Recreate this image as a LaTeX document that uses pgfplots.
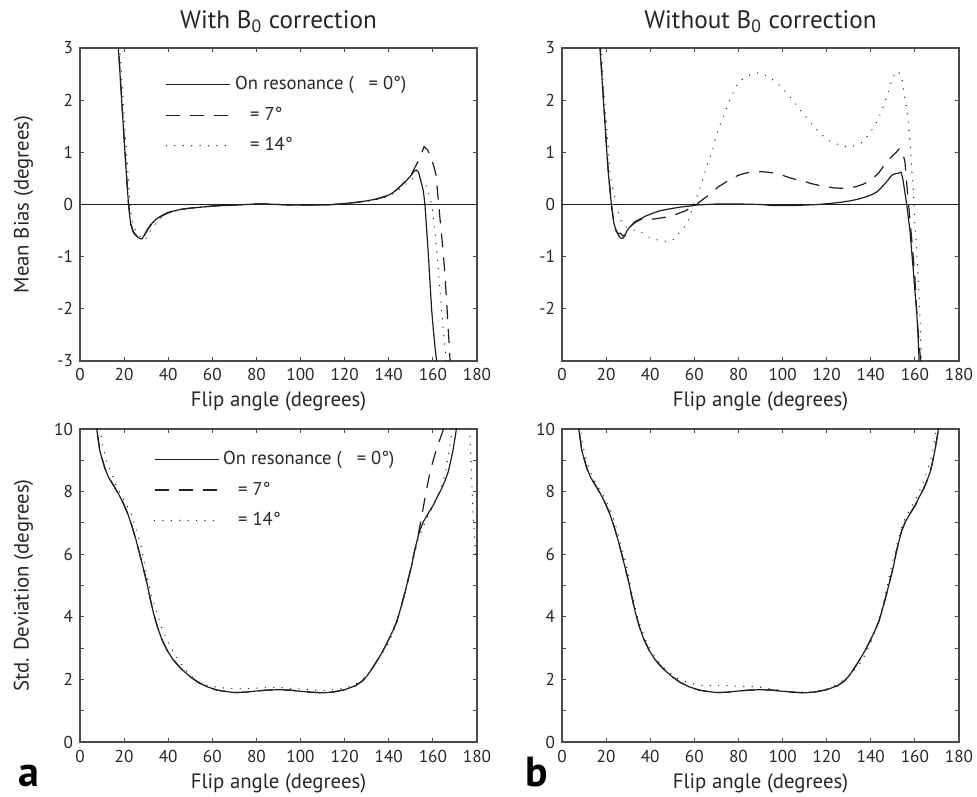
\documentclass[border=0pt]{standalone}
\usepackage{pgfplots}
\pgfplotsset{compat=1.18}
\usepackage{pgfplotstable}
\usepackage{fontspec}
\setmainfont{PT Sans}
\definecolor{ink}{HTML}{1E1E1E}
\definecolor{frame}{HTML}{4A4A4A}

% ---------- top panels: mean bias ----------
\pgfplotstableread{
x y
17.0 3.3
17.4 3.0
18 2.6
19 1.92
20 1.25
21 0.6
22 0.0
22.5 -0.2
23 -0.38
24 -0.52
25 -0.58
26 -0.62
27 -0.65
28 -0.66
29 -0.6
30 -0.52
31 -0.45
32 -0.39
34 -0.3
36 -0.24
38 -0.19
40 -0.15
43 -0.12
46 -0.09
50 -0.07
55 -0.05
60 -0.03
65 -0.02
70 -0.01
75 0.0
80 0.01
85 0.01
90 0.0
95 -0.01
100 -0.01
105 -0.01
110 -0.01
115 0.0
120 0.02
125 0.04
130 0.07
135 0.11
138 0.15
140 0.18
142 0.23
144 0.3
146 0.38
148 0.46
150 0.55
151.5 0.64
152.5 0.66
153.5 0.62
154.2 0.5
155 0.38
155.7 0.25
156.4 0.0
157.2 -0.5
158 -1.0
158.7 -1.5
159.4 -2.0
160.2 -2.4
161 -2.75
161.7 -3.0
162 -3.2
}\TLsolid
\pgfplotstableread{
x y
17.2 3.3
17.5 3.0
18 2.62
19 1.94
20 1.27
21 0.62
22 0.02
22.5 -0.18
23 -0.36
24 -0.5
25 -0.57
26 -0.61
27 -0.64
28 -0.67
29 -0.61
30 -0.53
31 -0.46
32 -0.4
34 -0.31
36 -0.25
38 -0.2
40 -0.16
43 -0.12
46 -0.09
50 -0.07
55 -0.05
60 -0.03
65 -0.02
70 -0.01
75 0.0
80 0.01
85 0.01
90 0.0
95 -0.01
100 -0.01
105 -0.01
110 -0.01
115 0.0
120 0.02
125 0.04
130 0.07
135 0.11
138 0.15
140 0.18
142 0.23
144 0.3
146 0.38
148 0.46
150 0.56
151.5 0.68
153.1 0.81
155 1.0
156 1.11
157.5 1.05
159.1 0.92
160.3 0.75
161.4 0.57
162.3 0.15
163.2 -0.26
164 -0.6
164.7 -0.94
165.3 -1.25
165.8 -1.58
166.3 -1.9
166.7 -2.21
167.3 -2.63
167.8 -3.0
168 -3.2
}\TLdash
\pgfplotstableread{
x y
17.8 3.2
18 3.0
19 2.35
20 1.7
21 1.05
22 0.45
22.6 0.0
23.5 -0.3
24.5 -0.45
26 -0.55
27.5 -0.62
28.5 -0.67
29.5 -0.68
30.5 -0.6
32 -0.5
34 -0.38
36 -0.28
38 -0.22
40 -0.17
43 -0.13
46 -0.1
50 -0.07
55 -0.05
60 -0.03
70 -0.01
80 0.01
90 0.0
100 -0.01
110 -0.01
120 0.02
130 0.06
135 0.1
140 0.16
144 0.26
147 0.36
149 0.44
151.1 0.5
153 0.5
154.9 0.47
157.2 0.34
158.7 0.12
159.8 -0.1
161 -0.55
162 -1.0
163.2 -1.64
164.4 -2.28
166 -2.95
166.2 -3.2
}\TLdot
\pgfplotstableread{
x y
17.0 3.3
17.2 3.0
18 2.5
19 1.85
20 1.2
21 0.6
22.5 -0.05
23.5 -0.35
24.5 -0.5
25.5 -0.58
26.5 -0.64
27.5 -0.65
28.5 -0.6
29.5 -0.5
30.8 -0.43
32 -0.38
33 -0.33
35.4 -0.28
38 -0.22
41 -0.17
44.4 -0.12
48 -0.09
53.5 -0.05
58 -0.03
61 -0.01
70 0.01
80 0.01
90 0.0
95.8 -0.02
100 -0.02
105 -0.02
110.9 -0.01
116 0.0
121.5 0.02
126 0.04
130.6 0.07
134 0.1
138.1 0.15
140.5 0.19
142.7 0.24
144.5 0.31
146.4 0.4
148 0.48
149.5 0.56
151 0.59
152.5 0.6
153.7 0.62
154.5 0.5
155.5 0.22
156.3 0.0
157 -0.25
157.8 -0.51
158.5 -0.88
159.3 -1.28
160 -1.65
160.8 -2.05
161.4 -2.5
161.9 -2.98
162.1 -3.2
}\TRsolid
\pgfplotstableread{
x y
17.2 3.2
17.4 3.0
18 2.55
19 1.9
20 1.25
21 0.62
22.5 -0.02
23.5 -0.35
24.5 -0.5
25.5 -0.56
26.5 -0.55
27.5 -0.6
28.5 -0.58
29.5 -0.5
31 -0.42
33 -0.35
35 -0.3
37 -0.27
39 -0.3
41 -0.28
43 -0.27
46 -0.25
48.2 -0.23
51 -0.2
53.5 -0.16
56 -0.12
58 -0.07
60.3 -0.02
63 0.07
65.6 0.15
68 0.23
70.9 0.34
74 0.42
76.9 0.5
80 0.56
83 0.6
86 0.62
89.8 0.63
93 0.62
96.6 0.6
100 0.56
103.4 0.51
107 0.47
110.2 0.44
113 0.4
116.2 0.37
120 0.34
123 0.32
127 0.31
129.8 0.32
133 0.34
136.6 0.39
139 0.44
141.1 0.51
143.5 0.6
145.7 0.73
147.5 0.82
149.5 0.92
151.5 1.0
153.2 1.08
154.5 0.98
155.5 0.82
156.3 0.4
157 0.05
157.8 -0.3
158.5 -0.64
159.3 -1.03
160 -1.41
160.8 -2.05
161.4 -2.4
162 -2.69
162.6 -3.0
162.8 -3.2
}\TRdash
\pgfplotstableread{
x y
17.5 3.2
17.8 3.0
18.7 2.32
20.3 1.46
21.8 0.57
23 0.3
24 0.12
25.1 -0.09
26.6 -0.3
28.3 -0.4
30.1 -0.46
32.5 -0.49
35.1 -0.51
37 -0.56
39.1 -0.62
41 -0.66
43.4 -0.68
46 -0.7
48.2 -0.71
50.5 -0.67
52.3 -0.58
54 -0.5
55.5 -0.43
57 -0.33
58 -0.22
59.7 0.0
61.4 0.18
63.3 0.41
64.8 0.62
66.3 0.82
68.2 1.03
69.4 1.24
71 1.45
72.8 1.66
74.7 1.86
76.9 2.08
79.2 2.28
81 2.38
83 2.43
85 2.48
87.8 2.53
90 2.51
92.5 2.47
94.5 2.42
96.9 2.35
100.3 2.21
103.8 2.04
107.1 1.86
110.5 1.68
113.7 1.51
117.3 1.35
121.2 1.22
125.7 1.14
128 1.11
130.9 1.11
133 1.13
135.6 1.18
137.5 1.25
139.2 1.35
141.9 1.52
144.2 1.72
146.1 1.93
147.7 2.13
149.2 2.34
150.3 2.45
151.3 2.55
152.7 2.53
154 2.46
154.7 2.24
155.6 2.02
156.3 1.8
157 1.59
157.5 1.36
157.9 1.14
158.2 0.93
158.5 0.72
158.8 0.49
159.3 0.28
159.5 0.05
159.7 -0.17
160 -0.39
160.4 -0.62
160.8 -0.85
161.3 -1.29
161.9 -1.73
162.3 -2.18
162.8 -2.82
163 -3.2
}\TRdot

% ---------- bottom panels: standard deviation ----------
\pgfplotstableread{
x y
7.0 10.6
7.6 10.0
9 9.3
11.3 8.74
13 8.45
15.1 8.21
17.5 7.92
19.6 7.63
21.5 7.32
23.4 6.93
25.3 6.48
27.2 5.97
28.7 5.55
30.2 5.12
31.7 4.62
33.2 4.15
35 3.7
37 3.3
39.5 2.93
42.3 2.62
46 2.33
49.9 2.09
53.5 1.91
57.4 1.77
62 1.66
66.5 1.61
70 1.58
75 1.59
80 1.63
85 1.66
90 1.67
95 1.66
100 1.62
105 1.59
110 1.57
115 1.6
120 1.67
125 1.8
128 1.95
130 2.1
132 2.3
134 2.52
136 2.75
138 3.0
140 3.28
142 3.58
143.6 3.84
145.5 4.3
147.4 4.8
149 5.25
150.4 5.65
151.5 6.05
152.7 6.4
154 6.75
155.7 7.04
158 7.32
160.2 7.57
162 7.83
164 8.1
165.5 8.35
167 8.64
168 8.95
169 9.28
170.5 9.92
171 10.3
}\Bsolid
\pgfplotstableread{
x y
7.0 10.6
7.6 10.0
9 9.3
11.3 8.74
13 8.45
15.1 8.21
17.5 7.92
19.6 7.63
21.5 7.32
23.4 6.93
25.3 6.48
27.2 5.97
28.7 5.55
30.2 5.12
31.7 4.62
33.2 4.15
35 3.7
37 3.3
39.5 2.93
42.3 2.62
46 2.33
49.9 2.09
53.5 1.91
57.4 1.77
62 1.66
66.5 1.61
70 1.58
75 1.59
80 1.63
85 1.66
90 1.67
95 1.66
100 1.62
105 1.59
110 1.57
115 1.6
120 1.67
125 1.8
128 1.95
130 2.1
132 2.3
134 2.52
136 2.75
138 3.0
140 3.28
142 3.58
143.6 3.84
145.5 4.3
147.4 4.8
149 5.25
150.4 5.65
151.5 6.05
152.7 6.4
154.2 6.93
156.4 7.79
158.7 8.64
161.7 9.38
164.7 9.97
165 10.3
}\BLdash
\pgfplotstableread{
x y
8.9 10.3
9.8 9.65
11.8 9.0
14.4 8.58
16.2 8.23
18.6 7.89
21.2 7.57
23.4 7.25
24.9 6.93
26.4 6.56
28 6.19
28.7 5.87
29.9 5.47
31 5.12
32 4.75
33.6 4.41
35.2 4.06
36.7 3.71
38.8 3.37
40.8 3.05
43.8 2.71
46.6 2.41
49.9 2.14
54 1.91
58 1.8
62 1.75
66 1.72
70 1.7
75 1.7
80 1.72
85 1.74
90 1.74
95 1.72
100 1.69
105 1.66
110 1.65
115 1.67
120 1.72
125 1.85
130 2.1
134 2.5
137.5 2.85
140.5 3.25
143.6 3.8
145.5 4.25
147.4 4.75
149 5.2
150.4 5.6
151.5 5.95
152.7 6.3
154 6.6
156 6.95
158 7.25
160.2 7.55
162 7.85
164 8.2
165.5 8.53
167 9.17
168.2 9.7
169 10.3
nan nan
176.6 10.3
176.8 9.7
177.3 8.9
177.8 8.0
178.2 7.3
178.8 6.6
179.5 5.97
}\BLdot
\pgfplotstableread{
x y
8.0 10.4
8.9 9.65
11 9.0
13 8.6
15 8.3
18 7.95
20 7.7
22 7.4
24 7.0
26 6.5
28 6.0
29.5 5.5
31 5.0
32.5 4.5
34 4.05
36 3.6
38 3.25
41 2.85
44 2.55
48 2.25
52 2.05
55 1.95
58.8 1.87
64 1.8
70 1.8
74.6 1.8
80 1.78
86.7 1.77
91.3 1.74
95 1.7
100 1.64
105 1.6
110 1.59
115 1.62
120 1.7
125 1.85
130 2.1
135 2.5
138 2.85
141 3.35
144 4.0
146 4.5
148 5.15
150 5.8
152 6.35
154 6.85
156 7.2
158 7.45
160 7.7
162 8.0
164 8.35
166 8.75
168 9.25
169.1 9.7
170 10.3
}\BRdot

\pgfplotsset{
  panel/.style={
    scale only axis, width=198.5pt, height=156.5pt,
    xmin=0, xmax=180,
    xtick={0,20,...,180},
    xticklabels={0,20,40,60,80,100,120,140,160,180},
    tick align=inside, major tick length=2.2pt, minor tick length=2.2pt,
    axis line style={frame, line width=0.6pt},
    tick style={frame, line width=0.5pt},
    tick label style={font=\fontsize{8.6}{9}\selectfont, text=black!85},
    xticklabel style={anchor=base, yshift=-10pt},
    label style={font=\fontsize{10.4}{12}\selectfont, text=black!85},
    xlabel={Flip angle (degrees)},
    xlabel style={at={(axis description cs:0.5,0)}, anchor=base, yshift=-23pt},
    ylabel style={at={(axis description cs:-0.1,0.5)}, anchor=south},
    title style={at={(axis description cs:0.5,1)}, anchor=base, yshift=4pt,
      font=\fontsize{12.6}{14}\selectfont, text=black!85},
    clip=true,
    unbounded coords=jump,
    legend cell align=left,
    legend style={draw=none, fill=none, font=\fontsize{9.3}{10}\selectfont, text=black!85,
      row sep=2.2pt, inner sep=0pt,
      nodes={text height=7pt, text depth=2pt},
      /tikz/every even column/.append style={column sep=4pt}},
    legend image code/.code={\draw[#1] (0pt,0pt) -- (32pt,0pt);},
  },
  sol/.style={ink, line width=0.6pt},
  das/.style={ink, line width=0.6pt, dash pattern=on 7pt off 5pt},
  dotl/.style={ink, line width=0.7pt, line cap=round, dash pattern=on 0pt off 4.2pt},
}

\begin{document}
\begin{tikzpicture}
\useasboundingbox (0pt,0pt) rectangle (488.5pt,398pt);

% ---------------- (a) top ----------------
\begin{axis}[panel, at={(40pt,217.5pt)}, anchor=south west,
  ymin=-3, ymax=3, ytick={-3,-2,...,3}, yticklabels={-3,-2,-1,0,1,2,3},
  ylabel={Mean Bias (degrees)},
  title={With B\textsubscript{0} correction},
  legend style={at={(0.215,0.925)}, anchor=north west}]
\addplot[sol] table {\TLsolid};
\addplot[das] table {\TLdash};
\addplot[dotl] table {\TLdot};
\addplot[ink, line width=0.6pt, forget plot] coordinates {(0,0) (180,0)};
\legend{On resonance (\hspace{7.5pt}= 0°), \hspace{7.5pt}= 7°, \hspace{7.5pt}= 14°}
\end{axis}

% ---------------- (b) top ----------------
\begin{axis}[panel, at={(281pt,217.5pt)}, anchor=south west,
  ymin=-3, ymax=3, ytick={-2,-1,...,3}, yticklabels={-2,-1,0,1,2,3},
  title={Without B\textsubscript{0} correction}]
\addplot[sol] table {\TRsolid};
\addplot[das] table {\TRdash};
\addplot[dotl] table {\TRdot};
\addplot[ink, line width=0.6pt] coordinates {(0,0) (180,0)};
\end{axis}

% ---------------- (a) bottom ----------------
\begin{axis}[panel, at={(40pt,27pt)}, anchor=south west,
  ymin=0, ymax=10, ytick={0,2,...,10}, yticklabels={0,2,4,6,8,10},
  minor ytick={1,3,5,7,9},
  ylabel={Std. Deviation (degrees)},
  legend style={at={(0.185,0.945)}, anchor=north west}]
\addplot[sol] table {\Bsolid};
\addplot[das] table {\BLdash};
\addplot[dotl] table {\BLdot};
\legend{On resonance (\hspace{7.5pt}= 0°), \hspace{7.5pt}= 7°, \hspace{7.5pt}= 14°}
\end{axis}

% ---------------- (b) bottom ----------------
\begin{axis}[panel, at={(281pt,27pt)}, anchor=south west,
  ymin=0, ymax=10, ytick={0,2,...,10}, yticklabels={0,2,4,6,8,10},
  minor ytick={1,3,5,7,9}]
\addplot[sol] table {\Bsolid};
\addplot[das] table {\Bsolid};
\addplot[dotl] table {\BRdot};
\end{axis}

\node[anchor=base west, inner sep=0pt, font=\fontsize{21}{21}\bfseries\selectfont] at (9pt,5pt) {a};
\node[anchor=base west, inner sep=0pt, font=\fontsize{21}{21}\bfseries\selectfont] at (262.5pt,5pt) {b};
\end{tikzpicture}
\end{document}
